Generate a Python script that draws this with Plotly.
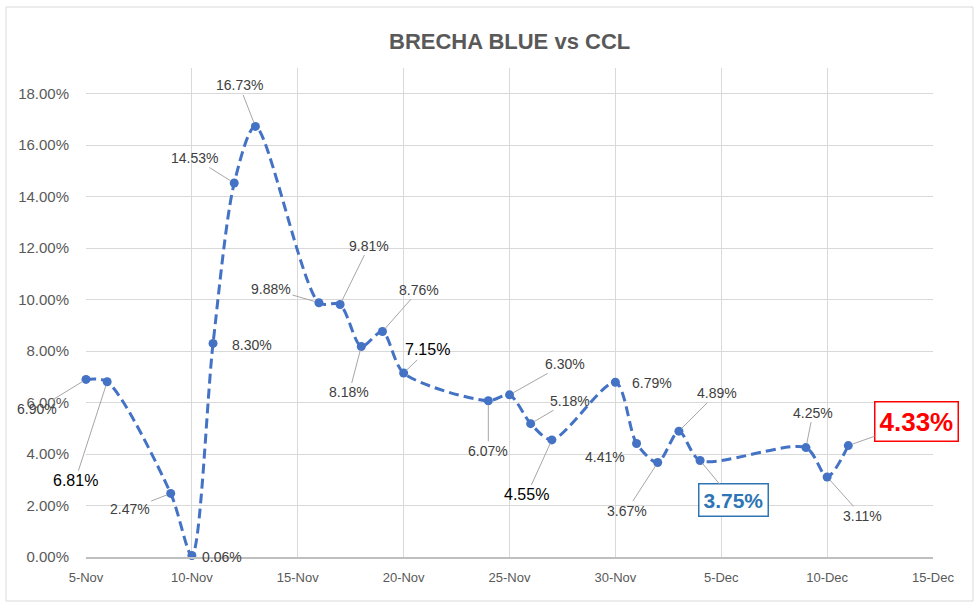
import plotly.graph_objects as go

dates = ["2020-11-05", "2020-11-06", "2020-11-09", "2020-11-10", "2020-11-11", "2020-11-12",
         "2020-11-13", "2020-11-16", "2020-11-17", "2020-11-18", "2020-11-19", "2020-11-20",
         "2020-11-24", "2020-11-25", "2020-11-26", "2020-11-27", "2020-11-30", "2020-12-01",
         "2020-12-02", "2020-12-03", "2020-12-04", "2020-12-09", "2020-12-10", "2020-12-11"]
values = [0.0690, 0.0681, 0.0247, 0.0006, 0.0830, 0.1453,
          0.1673, 0.0988, 0.0981, 0.0818, 0.0876, 0.0715,
          0.0607, 0.0630, 0.0518, 0.0455, 0.0679, 0.0441,
          0.0367, 0.0489, 0.0375, 0.0425, 0.0311, 0.0433]

title = "BRECHA BLUE vs CCL"

# label styling (offsets in px from point, leader shown?, style)
label_offsets = [(-49, 30, True), (-32, 99, True), (-41, 16, True), (30, 2, False), (39, 2, False),
                 (-40, -25, True), (-16, -41, True), (-48, -14, True), (29, -59, True), (-12, 46, True),
                 (37, -42, True), (24, -23, True), (0, 50, True), (55, -31, True), (39, -23, True),
                 (-25, 55, True), (37, 1, False), (-32, 13, False), (-31, 48, True), (38, -38, True),
                 (33, 40, True), (7, -35, True), (35, 39, True), (68, -24, True)]
label_style = ["n", "big", "n", "n", "n", "n", "n", "n", "n", "n", "n", "big",
               "n", "n", "n", "big", "n", "n", "n", "n", "blue", "n", "n", "red"]

FONT = "Liberation Sans Narrow, Liberation Sans, Arial, sans-serif"
BLUE = "#4472C4"

fig = go.Figure()
fig.add_trace(go.Scatter(
    x=dates, y=values, mode="lines+markers",
    line=dict(color=BLUE, width=3, dash="10px,5px", shape="spline", smoothing=0.8),
    marker=dict(color=BLUE, size=9), cliponaxis=False,
    hoverinfo="skip", showlegend=False,
))

annotations = []
for d, v, (ax, ay, lead), st in zip(dates, values, label_offsets, label_style):
    txt = f"{v*100:.2f}%"
    a = dict(x=d, y=v, xref="x", yref="y", text=txt, showarrow=True,
             ax=ax, ay=ay, arrowhead=0, arrowwidth=1, arrowcolor="#A6A6A6" if lead else "rgba(0,0,0,0)",
             standoff=4, font=dict(family=FONT, size=14, color="#404040"))
    if st == "big":
        a["font"] = dict(family=FONT, size=16, color="#000000")
    elif st == "blue":
        a["text"] = f"<b>{txt}</b>"
        a["font"] = dict(family=FONT, size=21, color="#2E75B6")
        a["bordercolor"] = "#2E75B6"
        a["borderwidth"] = 1.5
        a["borderpad"] = 4
        a["bgcolor"] = "white"
    elif st == "red":
        a["text"] = f"<b>{txt}</b>"
        a["font"] = dict(family=FONT, size=26, color="#FF0000")
        a["bordercolor"] = "#FF0000"
        a["borderwidth"] = 1.5
        a["borderpad"] = 4
        a["bgcolor"] = "white"
    annotations.append(a)

annotations.append(dict(text=f"<b>{title}</b>", x=0.5, y=(557 - 42) / 489, xref="paper", yref="paper",
                        showarrow=False, font=dict(family=FONT, size=22, color="#595959"),
                        xanchor="center", yanchor="middle"))

# chart frame
def px_x(p):
    return (p - 86) / 847
def px_y(p):
    return (557 - p) / 489

fig.update_layout(
    width=980, height=604,
    margin=dict(l=86, r=47, t=68, b=47),
    paper_bgcolor="white", plot_bgcolor="white",
    annotations=annotations,
    shapes=[dict(type="rect", xref="paper", yref="paper",
                 x0=px_x(6), x1=px_x(973), y0=px_y(601), y1=px_y(7),
                 line=dict(color="#D9D9D9", width=1), layer="below")],
    xaxis=dict(type="date", range=["2020-11-05", "2020-12-15"], tick0="2020-11-05",
               dtick=5 * 86400000, tickformat="%-d-%b", showgrid=True, gridcolor="#D9D9D9",
               showline=True, linecolor="#BFBFBF", linewidth=1.5, ticks="",
               ticklabelstandoff=8,
               tickfont=dict(family=FONT, size=13, color="#595959"), zeroline=False),
    yaxis=dict(range=[0, 0.19], dtick=0.02, tickformat=".2%", showgrid=True, gridcolor="#D9D9D9",
               showline=False, ticks="", zeroline=False, ticklabelstandoff=16,
               tickfont=dict(family=FONT, size=15, color="#595959")),
)

fig.write_html("out.html")
